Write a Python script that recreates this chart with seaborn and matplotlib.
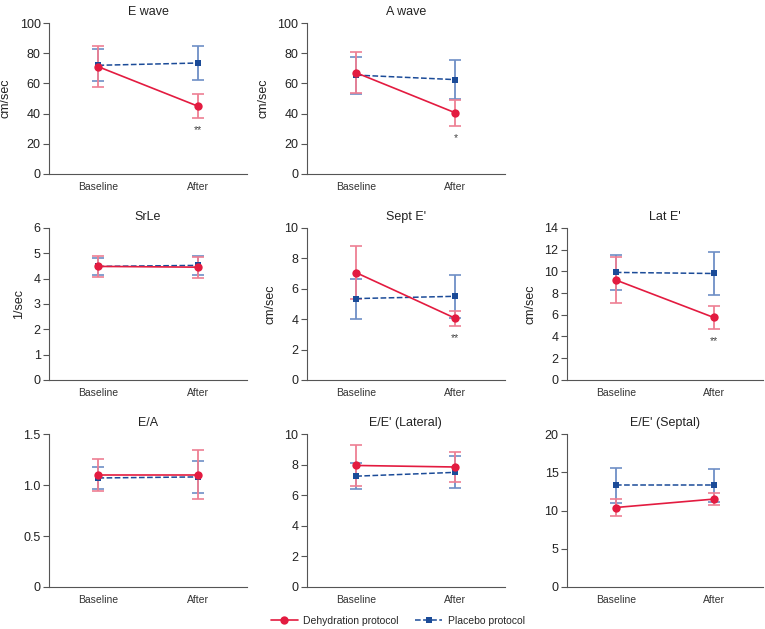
import numpy as np
import pandas as pd
import matplotlib.pyplot as plt
import seaborn as sns
from matplotlib.lines import Line2D

sns.set_style("white")
plt.rcParams['font.family'] = ['Liberation Sans', 'DejaVu Sans']

# Data: mean and SD per panel, [Baseline, After]
timepoints = ["Baseline", "After"]
panels = ["E wave", "A wave", "SrLe", "Sept E'", "Lat E'", "E/A", "E/E' (Lateral)", "E/E' (Septal)"]
ylabels = ["cm/sec", "cm/sec", "1/sec", "cm/sec", "cm/sec", "", "", ""]

dehyd_mean = [[71, 45], [67, 40.5], [4.48, 4.45], [7.05, 4.05], [9.2, 5.75],
              [1.10, 1.10], [7.95, 7.85], [10.4, 11.5]]
dehyd_sd = [[13.5, 8], [13.5, 8.7], [0.4, 0.41], [1.75, 0.5], [2.15, 1.05],
            [0.16, 0.24], [1.35, 0.95], [1.1, 0.8]]
placebo_mean = [[72, 73.5], [65.5, 62.5], [4.48, 4.52], [5.35, 5.5], [9.9, 9.8],
                [1.07, 1.08], [7.25, 7.5], [13.3, 13.3]]
placebo_sd = [[10.5, 11.5], [12.3, 13], [0.33, 0.36], [1.32, 1.4], [1.6, 2.0],
              [0.11, 0.155], [0.85, 1.05], [2.3, 2.2]]
significance = ["**", "*", "", "**", "**", "", "", ""]

yticks = [[0, 20, 40, 60, 80, 100], [0, 20, 40, 60, 80, 100], [0, 1, 2, 3, 4, 5, 6],
          [0, 2, 4, 6, 8, 10], [0, 2, 4, 6, 8, 10, 12, 14],
          [0, 0.5, 1.0, 1.5], [0, 2, 4, 6, 8, 10], [0, 5, 10, 15, 20]]
ytick_labels = [None, None, None, None, None, ["0", "0.5", "1.0", "1.5"], None, None]

red = "#E31B40"
red_light = "#EE7F93"
blue = "#1B4B98"
blue_light = "#6E8FC6"

# axes positions in figure fraction (row, col)
lefts = [0.064, 0.401, 0.741]
widths = [0.259, 0.259, 0.256]
bottoms = [0.7234, 0.396, 0.0668]
heights = [0.240, 0.2417, 0.243]
slots = [(0, 0), (0, 1), (1, 0), (1, 1), (1, 2), (2, 0), (2, 1), (2, 2)]

fig = plt.figure(figsize=(7.65, 6.29), dpi=100)

for i, name in enumerate(panels):
    r, c = slots[i]
    ax = fig.add_axes([lefts[c], bottoms[r], widths[c], heights[r]])

    df = pd.DataFrame({
        "time": timepoints * 2,
        "value": dehyd_mean[i] + placebo_mean[i],
        "sd": dehyd_sd[i] + placebo_sd[i],
        "group": ["Dehydration protocol"] * 2 + ["Placebo protocol"] * 2,
    })
    xpos = np.arange(len(timepoints))

    # error bars first, so lines sit above them
    ax.errorbar(xpos, placebo_mean[i], yerr=placebo_sd[i], fmt="none",
                ecolor=blue_light, elinewidth=1.3, capsize=4.5, capthick=1.2, zorder=2)
    ax.errorbar(xpos, dehyd_mean[i], yerr=dehyd_sd[i], fmt="none",
                ecolor=red_light, elinewidth=1.3, capsize=4.5, capthick=1.2, zorder=2)

    sns.lineplot(data=df[df.group == "Placebo protocol"], x="time", y="value", ax=ax,
                 color=blue, linestyle="--", linewidth=1.1, marker="s", markersize=5,
                 markeredgewidth=0, sort=False, zorder=3)
    sns.lineplot(data=df[df.group == "Dehydration protocol"], x="time", y="value", ax=ax,
                 color=red, linewidth=1.2, marker="o", markersize=6,
                 markeredgewidth=0, sort=False, zorder=4)

    if significance[i]:
        ymax = yticks[i][-1]
        ax.text(1, dehyd_mean[i][1] - dehyd_sd[i][1] - 0.045 * ymax, significance[i],
                ha="center", va="top", fontsize=7.5, color="#444444")

    ax.set_xlim(-0.5, 1.5)
    ax.set_xticks([-0.5, 0.5, 1.5])
    ax.set_xticklabels([])
    ax.set_xticks(xpos, minor=True)
    ax.set_xticklabels(timepoints, minor=True, fontsize=7.5, color="#333333")
    ax.tick_params(axis="x", which="major", direction="out", length=4, width=0.8, color="#555555")
    ax.tick_params(axis="x", which="minor", length=0, pad=6)

    ax.set_ylim(yticks[i][0], yticks[i][-1])
    ax.set_yticks(yticks[i])
    if ytick_labels[i]:
        ax.set_yticklabels(ytick_labels[i])
    ax.tick_params(axis="y", direction="out", length=4, width=0.8, labelsize=9,
                   color="#555555", labelcolor="#222222", pad=2, left=True)

    ax.set_xlabel("")
    ax.set_ylabel(ylabels[i], fontsize=9, color="#222222", labelpad=6)
    ax.set_title(name, fontsize=9, color="#222222", pad=6)
    for s in ["top", "right"]:
        ax.spines[s].set_visible(False)
    for s in ["left", "bottom"]:
        ax.spines[s].set_color("#555555")
        ax.spines[s].set_linewidth(0.8)
    if ax.get_legend():
        ax.get_legend().remove()

handles = [
    Line2D([0], [0], color=red, linewidth=1.2, marker="o", markersize=6, markeredgewidth=0),
    Line2D([0], [0], color=blue, linewidth=1.1, linestyle="--", marker="s", markersize=5,
           markeredgewidth=0),
]
fig.legend(handles, ["Dehydration protocol", "Placebo protocol"], loc="center",
           bbox_to_anchor=(0.52, 0.013), ncol=2, frameon=False, fontsize=7.5,
           handlelength=2.6, columnspacing=1.6, handletextpad=0.5)

fig.savefig("out.png", dpi=100)
plt.close(fig)
